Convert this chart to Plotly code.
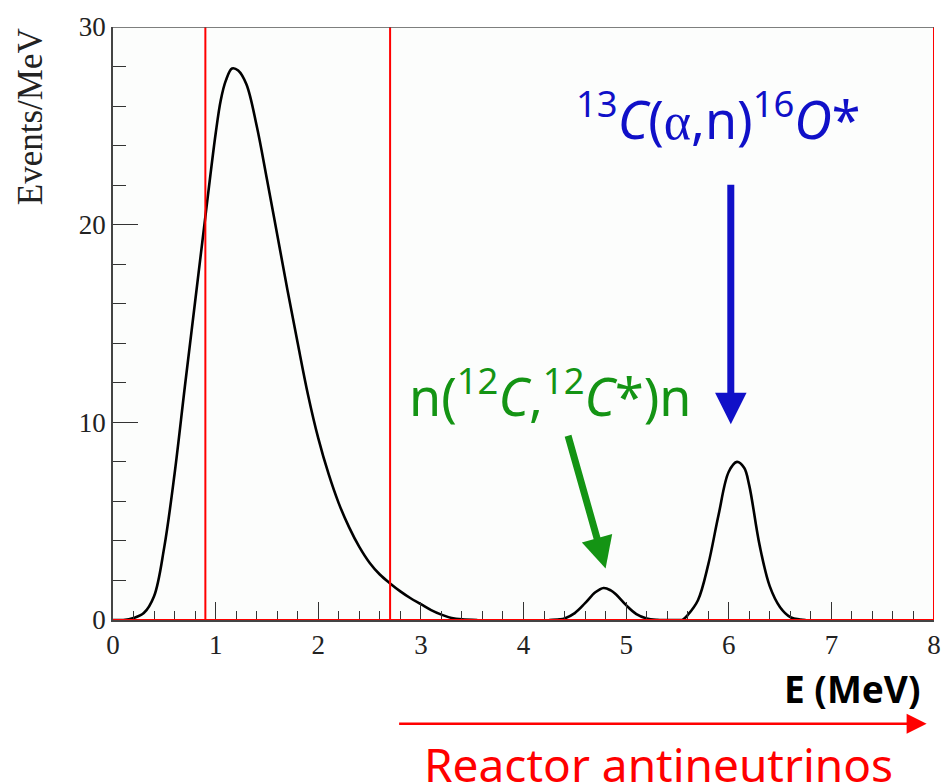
import plotly.graph_objects as go

# Visible energy spectrum of the background components (Events/MeV vs E in MeV)
energy_main = [0.0, 0.1, 0.2, 0.3, 0.4, 0.5, 0.6, 0.7, 0.8, 0.9, 1.0, 1.05, 1.1, 1.16, 1.22, 1.3,
               1.4, 1.5, 1.6, 1.7, 1.8, 1.9, 2.0, 2.1, 2.2, 2.3, 2.4, 2.5, 2.6, 2.7,
               2.8, 2.9, 3.0, 3.1, 3.2, 3.3, 3.4, 3.55]
events_main = [0.0, 0.0, 0.1, 0.35, 1.2, 3.7, 7.4, 11.8, 16.1, 20.4, 24.6, 26.3, 27.3, 27.9, 27.8, 27.1,
               25.0, 22.3, 19.5, 16.7, 14.0, 11.4, 9.2, 7.4, 5.9, 4.7, 3.7, 2.9, 2.3, 1.85,
               1.45, 1.1, 0.8, 0.5, 0.27, 0.1, 0.03, 0.0]

energy_c12 = [4.25, 4.35, 4.4, 4.5, 4.6, 4.7, 4.78, 4.85, 4.9, 5.0, 5.1, 5.2, 5.3, 5.4, 5.55]
events_c12 = [0.0, 0.03, 0.08, 0.35, 0.85, 1.4, 1.62, 1.5, 1.3, 0.75, 0.3, 0.08, 0.01, 0.0, 0.0]

energy_o16 = [5.55, 5.6, 5.7, 5.8, 5.9, 6.0, 6.08, 6.15, 6.2, 6.3, 6.4, 6.5, 6.6, 6.7, 6.75]
events_o16 = [0.0, 0.25, 1.0, 2.8, 5.3, 7.5, 8.0, 7.7, 6.8, 3.8, 1.7, 0.65, 0.15, 0.02, 0.0]

# Energy cuts (MeV)
cut_lines = [0.9, 2.7, 8.0]
e_range = [0.0, 8.0]
y_range = [0.0, 30.0]
x_ticks = [0, 1, 2, 3, 4, 5, 6, 7, 8]
y_ticks = [0, 10, 20, 30]

# Annotation anchors in data units
o16_label = (5.9, 25.5)
o16_arrow = ((6.02, 22.1), (6.02, 9.9))
c12_label = (4.26, 11.5)
c12_arrow = ((4.43, 9.4), (4.80, 2.6))

BLUE = "#1010c8"
GREEN = "#149414"
RED = "#ff0000"
SERIF = "Liberation Serif"
SANS = "Noto Sans"

fig = go.Figure()

# Red baseline along E axis
fig.add_shape(type="line", xref="x", yref="y", x0=e_range[0], x1=e_range[1], y0=0, y1=0,
              line=dict(color=RED, width=2.2), layer="above")

for e in cut_lines:
    fig.add_shape(type="line", xref="x", yref="y", x0=e, x1=e, y0=y_range[0], y1=y_range[1],
                  line=dict(color=RED, width=2), layer="above")

for xs, ys in [(energy_main, events_main), (energy_c12, events_c12), (energy_o16, events_o16)]:
    fig.add_trace(go.Scatter(x=xs, y=ys, mode="lines",
                             line=dict(color="black", width=2.6, shape="spline", smoothing=1.0),
                             hoverinfo="skip", showlegend=False))

# Top frame line
fig.add_shape(type="line", xref="x", yref="y", x0=e_range[0], x1=e_range[1], y0=y_range[1], y1=y_range[1],
              line=dict(color="#555555", width=1.5))

axis_common = dict(showgrid=False, zeroline=False, showline=True, linecolor="#444444", linewidth=1.5,
                   ticks="inside", tickcolor="#333333", tickwidth=1.3, automargin=False,
                   tickfont=dict(family=SERIF, size=27, color="#222222"))

fig.update_xaxes(range=e_range, tickvals=x_ticks, ticklen=18,
                 minor=dict(ticks="inside", dtick=0.2, ticklen=9, tickcolor="#333333", tickwidth=1.2),
                 **axis_common)
fig.update_yaxes(range=y_range, tickvals=y_ticks, ticklen=25,
                 minor=dict(ticks="inside", dtick=2, ticklen=13, tickcolor="#333333", tickwidth=1.2),
                 **axis_common)

# Arrows pointing at the gamma lines
fig.add_annotation(x=o16_arrow[1][0], y=o16_arrow[1][1], ax=o16_arrow[0][0], ay=o16_arrow[0][1],
                   xref="x", yref="y", axref="x", ayref="y", text="", showarrow=True,
                   arrowhead=2, arrowsize=0.9, arrowwidth=7, arrowcolor=BLUE, standoff=0)
fig.add_annotation(x=c12_arrow[1][0], y=c12_arrow[1][1], ax=c12_arrow[0][0], ay=c12_arrow[0][1],
                   xref="x", yref="y", axref="x", ayref="y", text="", showarrow=True,
                   arrowhead=2, arrowsize=0.9, arrowwidth=7, arrowcolor=GREEN, standoff=0)

fig.add_annotation(x=o16_label[0], y=o16_label[1], xref="x", yref="y", showarrow=False,
                   xanchor="center", yanchor="middle",
                   text=("<sup>13</sup><i>C</i>(<span style='font-family:Liberation Serif'>α</span>,n)"
                         "<sup>16</sup><i>O</i>*"),
                   font=dict(family=SANS, size=52, color=BLUE))
fig.add_annotation(x=c12_label[0], y=c12_label[1], xref="x", yref="y", showarrow=False,
                   xanchor="center", yanchor="middle",
                   text="n(<sup>12</sup><i>C</i>,<sup>12</sup><i>C</i>*)n",
                   font=dict(family=SANS, size=52, color=GREEN))

# Axis titles
fig.add_annotation(x=-0.101, y=0.848, xref="paper", yref="paper", showarrow=False, textangle=-90,
                   xanchor="center", yanchor="middle",
                   text="Events/MeV", font=dict(family=SERIF, size=35, color="#222222"))
fig.add_annotation(x=0.985, y=-0.115, xref="paper", yref="paper", xanchor="right", yanchor="middle",
                   showarrow=False, text="<b>E (MeV)</b>", font=dict(family=SANS, size=37, color="black"))

# Reactor antineutrino energy window arrow
fig.add_annotation(x=0.991, y=-0.175, xref="paper", yref="paper", ax=-529, ay=0, text="",
                   showarrow=True, arrowhead=2, arrowsize=1.6, arrowwidth=2.5, arrowcolor=RED, standoff=0)
fig.add_annotation(x=0.665, y=-0.242, xref="paper", yref="paper", xanchor="center", yanchor="middle",
                   showarrow=False, text="Reactor antineutrinos",
                   font=dict(family=SANS, size=46, color=RED))

fig.update_layout(width=941, height=784, margin=dict(l=113, r=7, t=27, b=164),
                  paper_bgcolor="white", plot_bgcolor="#fcfdfc")

fig.write_html("out.html")
